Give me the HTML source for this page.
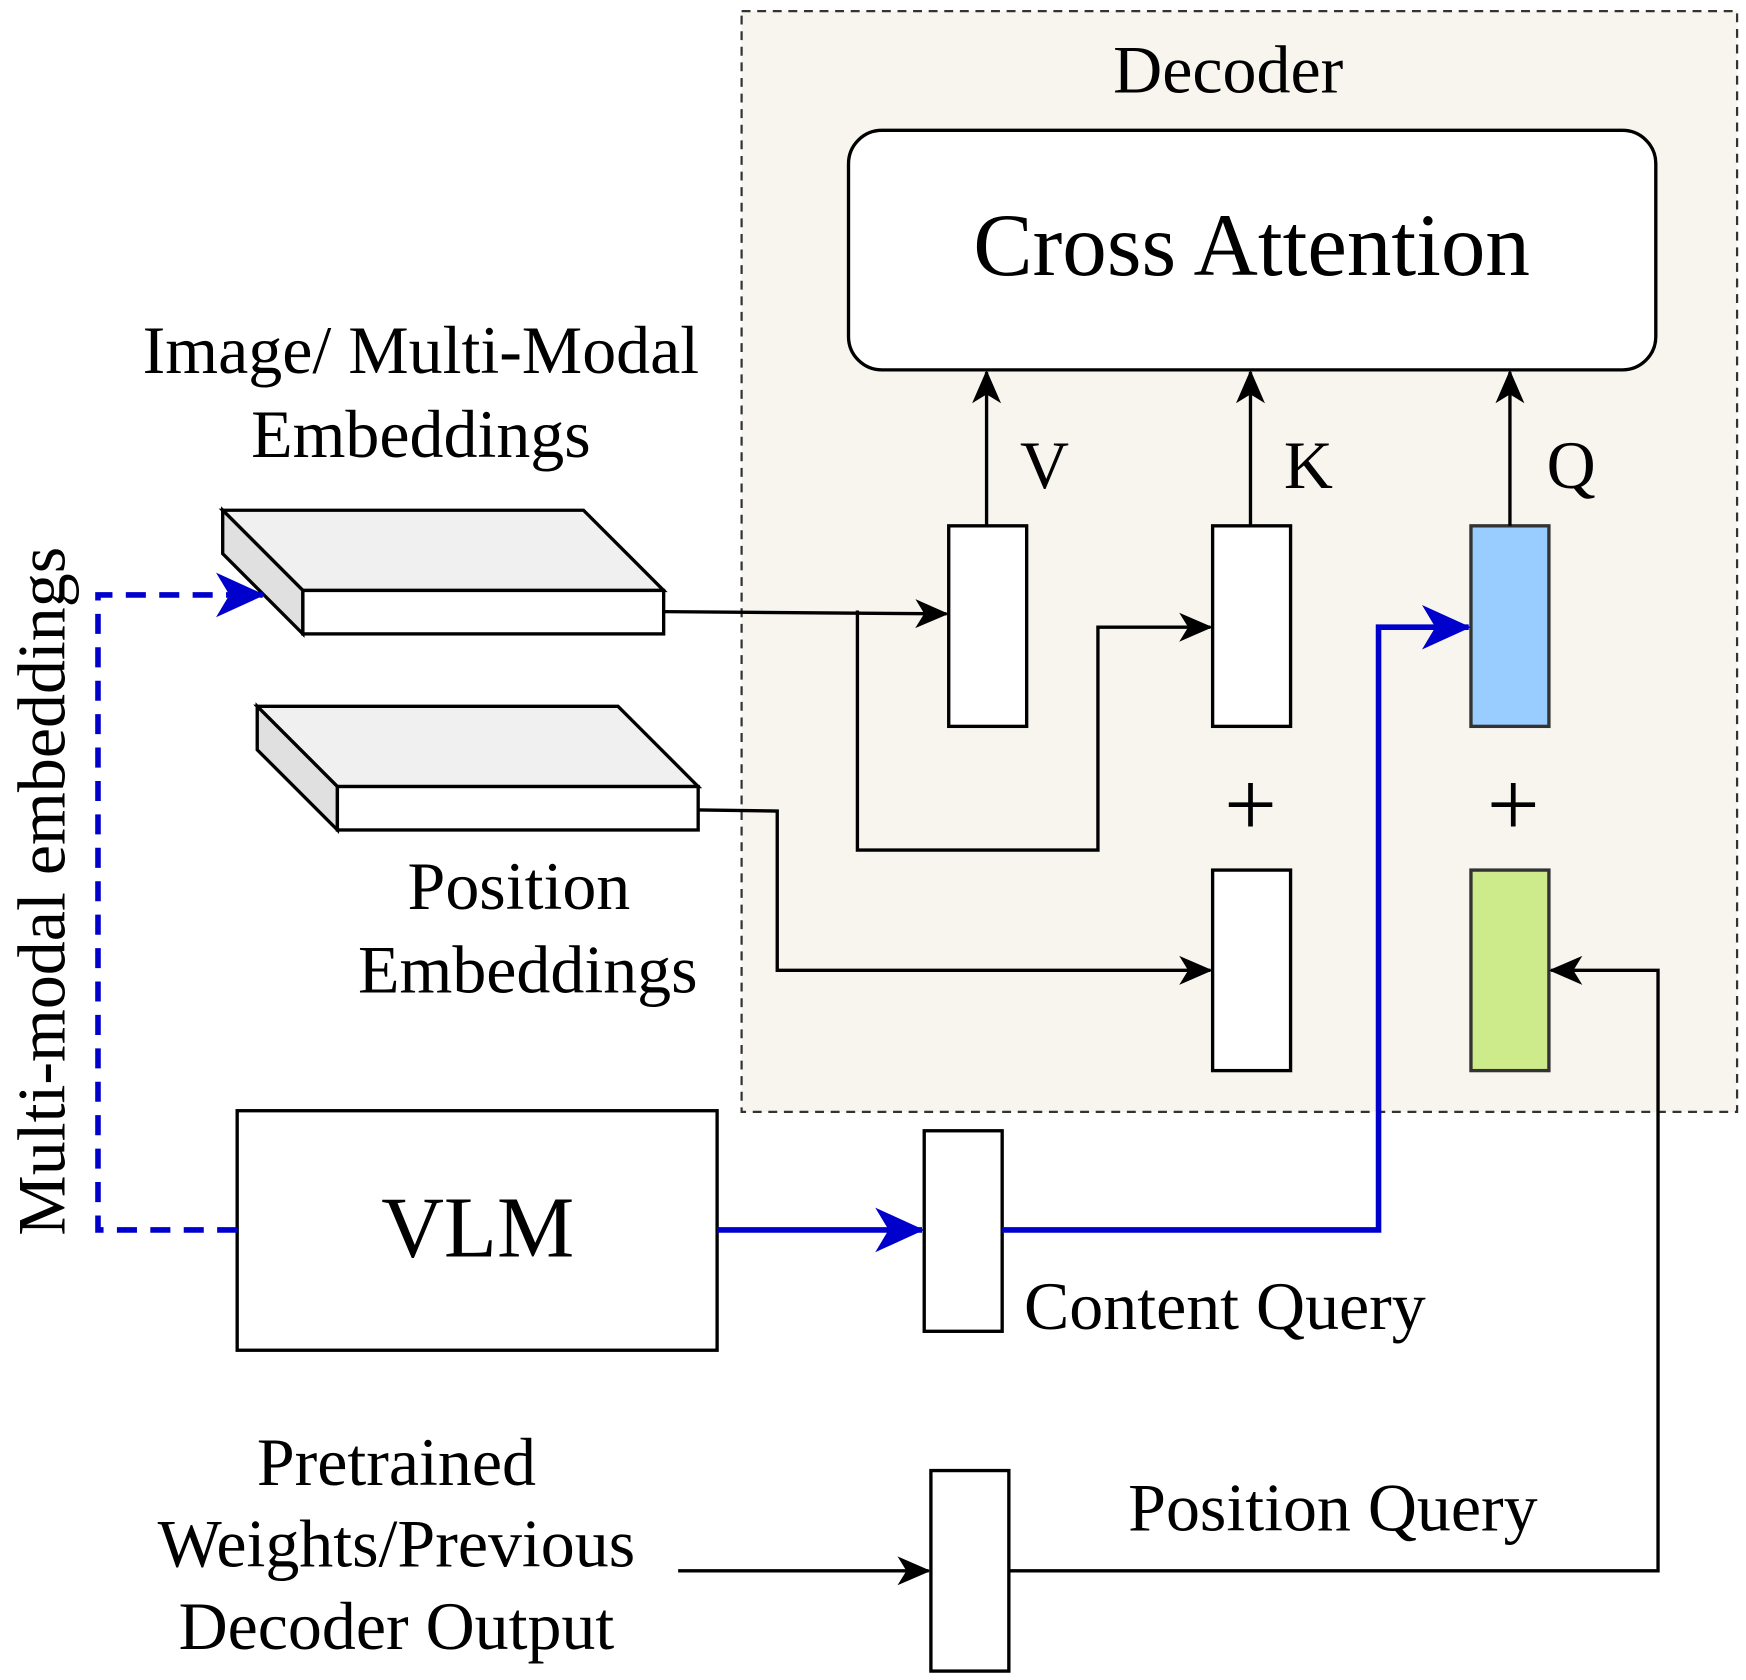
<!DOCTYPE html>
<html><head><style>html,body{margin:0;padding:0;background:#fff}svg{display:block}</style></head>
<body>
<svg width="1746" height="1680" viewBox="0 0 1568 1508" preserveAspectRatio="none" xmlns="http://www.w3.org/2000/svg" font-family="Liberation Serif, serif">
<defs>
<marker id="ak" markerWidth="30" markerHeight="30" refX="28" refY="15" orient="auto" markerUnits="userSpaceOnUse" viewBox="0 0 30 30"><path d="M0,2 L30,15 L0,28 L8,15 Z" fill="#000"/></marker>
<marker id="ab" markerWidth="44" markerHeight="44" refX="42" refY="22" orient="auto" markerUnits="userSpaceOnUse" viewBox="0 0 44 44"><path d="M0,2 L44,22 L0,42 L12,22 Z" fill="#0000cc"/></marker>
</defs>
<rect x="666" y="10" width="894" height="988" fill="#f7f5ee" stroke="#333" stroke-width="2" stroke-dasharray="8,6"/>
<text x="1103" y="83" font-size="61" text-anchor="middle">Decoder</text>
<rect x="762" y="117" width="725" height="215" rx="30" fill="#fff" stroke="#000" stroke-width="3"/>
<text x="1124" y="247" font-size="80" text-anchor="middle">Cross Attention</text>
<polygon points="200,458 524,458 596,530 272,530" fill="#f0f0f0" stroke="#000" stroke-width="3"/>
<polygon points="200,458 272,530 272,569 200,497" fill="#e0e0e0" stroke="#000" stroke-width="3"/>
<rect x="272" y="530" width="324" height="39" fill="#fff" stroke="#000" stroke-width="3"/>
<polygon points="231,634 555,634 627,706 303,706" fill="#f0f0f0" stroke="#000" stroke-width="3"/>
<polygon points="231,634 303,706 303,745 231,673" fill="#e0e0e0" stroke="#000" stroke-width="3"/>
<rect x="303" y="706" width="324" height="39" fill="#fff" stroke="#000" stroke-width="3"/>
<text x="378" y="335" font-size="61" text-anchor="middle">Image/ Multi-Modal</text>
<text x="378" y="410" font-size="61" text-anchor="middle">Embeddings</text>
<text x="466" y="816" font-size="61" text-anchor="middle">Position</text>
<text x="474" y="891" font-size="61" text-anchor="middle">Embeddings</text>
<rect x="852" y="472" width="70" height="180" fill="#fff" stroke="#000" stroke-width="3"/>
<rect x="1089" y="472" width="70" height="180" fill="#fff" stroke="#000" stroke-width="3"/>
<rect x="1321" y="472" width="70" height="180" fill="#99ccff" stroke="#333" stroke-width="3"/>
<rect x="1089" y="781" width="70" height="180" fill="#fff" stroke="#000" stroke-width="3"/>
<rect x="1321" y="781" width="70" height="180" fill="#cdeb8b" stroke="#333" stroke-width="3"/>
<text x="1123" y="750" font-size="84" text-anchor="middle">+</text>
<text x="1359" y="750" font-size="84" text-anchor="middle">+</text>
<line x1="886" y1="472" x2="886" y2="334" stroke="#000" stroke-width="3" marker-end="url(#ak)"/>
<line x1="1123" y1="472" x2="1123" y2="334" stroke="#000" stroke-width="3" marker-end="url(#ak)"/>
<line x1="1356" y1="472" x2="1356" y2="334" stroke="#000" stroke-width="3" marker-end="url(#ak)"/>
<text x="938" y="438" font-size="61" text-anchor="middle">V</text>
<text x="1175" y="438" font-size="61" text-anchor="middle">K</text>
<text x="1411" y="438" font-size="61" text-anchor="middle">Q</text>
<polyline points="596,549 850,551" fill="none" stroke="#000" stroke-width="3" marker-end="url(#ak)"/>
<polyline points="770,548 770,763 986,763 986,563 1087,563" fill="none" stroke="#000" stroke-width="3" marker-end="url(#ak)"/>
<polyline points="627,727 698,728 698,871 1087,871" fill="none" stroke="#000" stroke-width="3" marker-end="url(#ak)"/>
<polyline points="906,1410 1489,1410 1489,871 1393,871" fill="none" stroke="#000" stroke-width="3" marker-end="url(#ak)"/>
<polyline points="609,1410 834,1410" fill="none" stroke="#000" stroke-width="3" marker-end="url(#ak)"/>
<rect x="213" y="997" width="431" height="215" fill="#fff" stroke="#000" stroke-width="3"/>
<text x="429" y="1128" font-size="78" text-anchor="middle">VLM</text>
<rect x="830" y="1015" width="70" height="180" fill="#fff" stroke="#000" stroke-width="3"/>
<rect x="836" y="1320" width="70" height="180" fill="#fff" stroke="#000" stroke-width="3"/>
<polyline points="644,1104 828,1104" fill="none" stroke="#0000cc" stroke-width="5" marker-end="url(#ab)"/>
<polyline points="900,1104 1238,1104 1238,563 1319,563" fill="none" stroke="#0000cc" stroke-width="5" marker-end="url(#ab)"/>
<polyline points="213,1104 88,1104 88,534 236,534" fill="none" stroke="#0000cc" stroke-width="5" stroke-dasharray="18,12" marker-end="url(#ab)"/>
<text x="1100" y="1193" font-size="61" text-anchor="middle">Content Query</text>
<text x="1197" y="1374" font-size="61" text-anchor="middle">Position Query</text>
<text x="356" y="1333" font-size="61" text-anchor="middle">Pretrained</text>
<text x="356" y="1406" font-size="61" text-anchor="middle">Weights/Previous</text>
<text x="356" y="1480" font-size="61" text-anchor="middle">Decoder Output</text>
<text transform="translate(58,800) rotate(-90)" font-size="61" text-anchor="middle">Multi-modal embeddings</text>
</svg>
</body></html>
